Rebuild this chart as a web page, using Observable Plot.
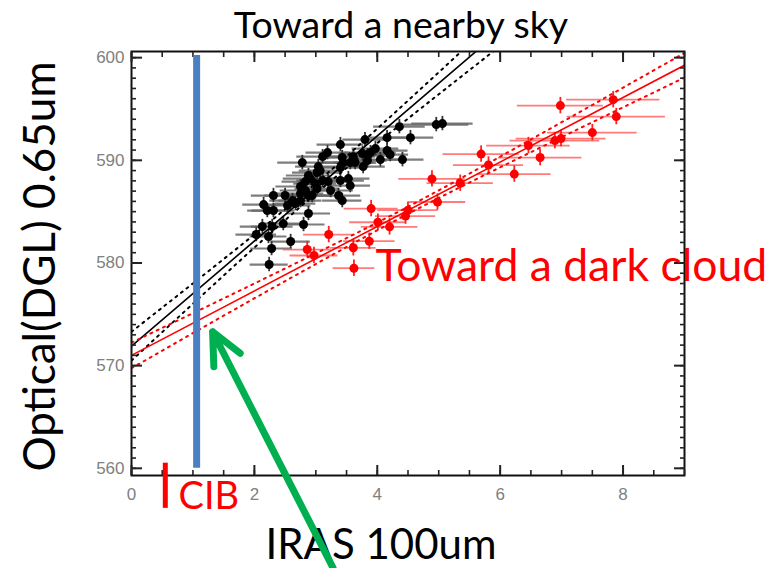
<!DOCTYPE html>
<html><head><meta charset="utf-8">
<script src="https://cdn.jsdelivr.net/npm/d3@7"></script>
<script src="https://cdn.jsdelivr.net/npm/@observablehq/plot@0.6"></script>
<style>body{margin:0;background:#fff} #chart svg{display:block}</style>
</head><body><div id="chart"></div>
<script>
// ---- Data: toward a nearby sky (black) ----
const nearbyX = [5.06,4.96,4.36,4.54,4.16,3.80,3.40,4.16,4.21,4.41,4.05,3.89,3.76,3.84,3.61,3.56,3.43,3.45,3.19,3.11,3.40,3.77,3.84,2.78,3.04,3.07,3.02,2.88,2.91,2.83,2.99,3.11,3.20,3.40,3.53,3.56,3.02,2.83,2.75,2.94,2.62,2.75,3.37,3.43,2.50,2.31,2.88,2.15,2.21,2.31,2.54,2.67,2.88,2.80,2.47,2.29,2.13,2.03,2.23,2.59,2.28,2.24,2.75,3.24,3.64,3.97];
const nearbyY = [593.58,593.48,593.28,592.21,592.21,592.02,591.53,590.95,590.56,590.07,590.07,590.75,590.66,590.46,590.36,589.78,590.27,589.78,590.75,590.36,589.29,589.39,589.98,589.78,589.39,589.00,588.81,588.52,588.22,587.93,587.74,588.03,587.93,588.03,588.22,587.54,587.25,587.06,586.76,586.57,586.08,586.08,586.57,586.08,586.57,586.57,586.57,585.69,585.11,585.11,585.60,585.79,584.82,583.75,583.84,583.55,583.55,582.77,582.58,582.09,581.41,579.85,587.45,587.06,589.78,591.14];
const nearbyXErr = [0.50,0.53,0.42,0.38,0.40,0.36,0.38,0.34,0.30,0.35,0.40,0.42,0.38,0.33,0.36,0.40,0.34,0.38,0.35,0.42,0.33,0.36,0.32,0.40,0.37,0.34,0.40,0.36,0.44,0.38,0.35,0.42,0.37,0.39,0.35,0.33,0.36,0.41,0.38,0.34,0.37,0.35,0.36,0.32,0.33,0.36,0.38,0.34,0.32,0.35,0.38,0.33,0.36,0.35,0.31,0.34,0.36,0.33,0.30,0.32,0.34,0.31,0.40,0.37,0.35,0.38];
const nearbyYErr = 0.7;

// ---- Data: toward a dark cloud (red) ----
const cloudX = [6.98,7.84,7.89,7.50,6.89,6.99,6.46,6.65,5.69,5.81,6.23,4.89,5.35,4.98,4.50,4.46,3.90,4.01,4.20,3.21,3.87,3.61,2.86,2.97,3.62];
const cloudY = [595.33,595.91,594.26,592.70,591.92,592.12,591.44,590.27,590.61,589.54,588.66,588.19,587.77,585.94,585.14,584.57,585.30,583.97,583.52,582.77,582.12,581.48,581.31,580.73,579.49];
const cloudXErr = [0.70,0.76,0.80,0.73,0.73,0.73,0.68,0.68,0.62,0.57,0.60,0.54,0.54,0.46,0.49,0.49,0.44,0.46,0.46,0.41,0.42,0.37,0.39,0.39,0.34];
const cloudYErr = 0.8;

// ---- Fits and confidence bands ----
const nearbyFitX = [0, 6];
const nearbyFitY = [571.9, 602.62];
const nearbyBandX = [0, 1, 2, 3, 4, 5, 6];
const nearbyUpperY = [573.3, 578.01, 582.78, 587.76, 593.08, 598.57, 604.1];
const nearbyLowerY = [570.5, 576.03, 581.50, 586.76, 591.68, 596.43, 601.14];
const cloudFitX = [0, 9];
const cloudFitY = [571.0, 599.26];
const cloudBandX = [0, 1.5, 3, 4.5, 6, 7.5, 9];
const cloudUpperY = [572.25, 576.55, 580.94, 585.48, 590.36, 595.39, 600.46];
const cloudLowerY = [569.75, 574.87, 579.90, 584.78, 589.32, 593.71, 598.06];

// ---- Annotations ----
const blueBarX = 1.06, blueBarY = [560, 600.2];
const cibX = 0.55, cibY = [556.1, 560.5];
const arrowFrom = [3.28, 550.3], arrowTo = [1.32, 573.3];

// ---- Ticks / labels ----
const xTicks = [0, 2, 4, 6, 8];
const xMinorTicks = d3.range(0, 9.01, 0.5);
const yTicks = [560, 570, 580, 590, 600];
const yMinorTicks = d3.range(560, 600.5, 1);
const titleText = "Toward a nearby sky";
const xLabel = "IRAS 100um";
const yLabel = "Optical(DGL) 0.65um";
const cloudLabel = "Toward a dark cloud";
const cibLabel = "CIB";

const nearby = nearbyX.map((x, i) => ({x, y: nearbyY[i], xe: nearbyXErr[i], ye: nearbyYErr}));
const cloud = cloudX.map((x, i) => ({x, y: cloudY[i], xe: cloudXErr[i], ye: cloudYErr}));
const pts = (xs, ys) => xs.map((x, i) => ({x, y: ys[i]}));

const big = "Lato, 'Open Sans', sans-serif";
const tickFont = "'Liberation Sans', Arial, sans-serif";

const chart = Plot.plot({
  width: 780, height: 568,
  marginLeft: 131, marginRight: 96, marginTop: 51, marginBottom: 93,
  x: {domain: [0, 9]},
  y: {domain: [559.3, 600.6]},
  style: {background: "white", overflow: "visible", fontFamily: tickFont},
  marks: [
    // error bars
    Plot.ruleY(nearby, {y: "y", x1: d => d.x - d.xe, x2: d => d.x + d.xe, stroke: "#666", strokeWidth: 2.2, strokeOpacity: 0.85}),
    Plot.ruleX(nearby, {x: "x", y1: d => d.y - d.ye, y2: d => d.y + d.ye, stroke: "#333", strokeWidth: 1.8}),
    Plot.ruleY(cloud, {y: "y", x1: d => d.x - d.xe, x2: d => d.x + d.xe, stroke: "#ff5a5a", strokeWidth: 1.8, strokeOpacity: 0.8}),
    Plot.ruleX(cloud, {x: "x", y1: d => d.y - d.ye, y2: d => d.y + d.ye, stroke: "#ff2020", strokeWidth: 1.8}),
    // fits
    Plot.line(pts(nearbyFitX, nearbyFitY), {x: "x", y: "y", stroke: "black", strokeWidth: 1.6, clip: true}),
    Plot.line(pts(nearbyBandX, nearbyUpperY), {x: "x", y: "y", curve: "natural", stroke: "black", strokeWidth: 2, strokeDasharray: "2,5", clip: true}),
    Plot.line(pts(nearbyBandX, nearbyLowerY), {x: "x", y: "y", curve: "natural", stroke: "black", strokeWidth: 2, strokeDasharray: "2,5", clip: true}),
    Plot.line(pts(cloudFitX, cloudFitY), {x: "x", y: "y", stroke: "#ff0000", strokeWidth: 1.6, clip: true}),
    Plot.line(pts(cloudBandX, cloudUpperY), {x: "x", y: "y", curve: "natural", stroke: "#ff0000", strokeWidth: 2, strokeDasharray: "2,5", clip: true}),
    Plot.line(pts(cloudBandX, cloudLowerY), {x: "x", y: "y", curve: "natural", stroke: "#ff0000", strokeWidth: 2, strokeDasharray: "2,5", clip: true}),
    // points
    Plot.dot(nearby, {x: "x", y: "y", r: 4.5, fill: "black"}),
    Plot.dot(cloud, {x: "x", y: "y", r: 4.5, fill: "#ff0000"}),
    // frame and ticks
    Plot.frame({stroke: "#111", strokeWidth: 2}),
    Plot.axisY({anchor: "left", ticks: yMinorTicks, tickSize: -5, text: null, label: null, stroke: "#222", strokeWidth: 1.6}),
    Plot.axisY({anchor: "left", ticks: yTicks, tickSize: -11, text: null, label: null, stroke: "#222", strokeWidth: 2}),
    Plot.axisY({anchor: "right", ticks: yMinorTicks, tickSize: -5, text: null, label: null, stroke: "#222", strokeWidth: 1.6}),
    Plot.axisY({anchor: "right", ticks: yTicks, tickSize: -11, text: null, label: null, stroke: "#222", strokeWidth: 2}),
    Plot.axisX({anchor: "bottom", ticks: xMinorTicks, tickSize: -5, text: null, label: null, stroke: "#222", strokeWidth: 1.6}),
    Plot.axisX({anchor: "bottom", ticks: xTicks, tickSize: -10, text: null, label: null, stroke: "#222", strokeWidth: 2}),
    Plot.axisX({anchor: "top", ticks: xMinorTicks, tickSize: -5, text: null, label: null, stroke: "#222", strokeWidth: 1.6}),
    Plot.axisX({anchor: "top", ticks: xTicks, tickSize: -10, text: null, label: null, stroke: "#222", strokeWidth: 2}),
    Plot.axisY({anchor: "left", ticks: yTicks, tickSize: 0, tickPadding: 7, label: null, fontSize: 17, fill: "#808080", tickFormat: d => String(d)}),
    Plot.axisX({anchor: "bottom", ticks: xTicks, tickSize: 0, tickPadding: 12, label: null, fontSize: 17, fill: "#808080", tickFormat: d => String(d)}),
    // annotations
    Plot.ruleX([blueBarX], {x: d => d, y1: blueBarY[0], y2: blueBarY[1], stroke: "#4a7fc1", strokeWidth: 7}),
    Plot.ruleX([cibX], {x: d => d, y1: cibY[0], y2: cibY[1], stroke: "#ff0000", strokeWidth: 5}),
    Plot.text([titleText], {text: d => d, frameAnchor: "top", textAnchor: "middle", dx: -7, dy: -14, lineAnchor: "bottom", fontSize: 37.5, fontFamily: big, fill: "black"}),
    Plot.text([xLabel], {text: d => d, frameAnchor: "bottom", textAnchor: "middle", dx: -27, dy: 83, lineAnchor: "bottom", fontSize: 42, fontFamily: big, fill: "black"}),
    Plot.text([yLabel], {text: d => d, frameAnchor: "left", textAnchor: "middle", dx: -77, dy: 3, rotate: -90, lineAnchor: "bottom", fontSize: 44, fontFamily: big, fill: "black"}),
    Plot.text([cloudLabel], {text: d => d, frameAnchor: "left", dx: 244, dy: 17, textAnchor: "start", lineAnchor: "bottom", fontSize: 44.5, fontFamily: big, fill: "#ff0000"}),
    Plot.text([cibLabel], {text: d => d, frameAnchor: "bottom-left", dx: 47, dy: 33, textAnchor: "start", lineAnchor: "bottom", fontSize: 38, fontFamily: big, fill: "#ff0000"}),
    Plot.arrow([0], {x1: arrowFrom[0], y1: arrowFrom[1], x2: arrowTo[0], y2: arrowTo[1], stroke: "#00b050", strokeWidth: 7, headLength: 7.5, headAngle: 50, strokeLinecap: "round", strokeLinejoin: "round"})
  ]
});
document.getElementById("chart").append(chart);
</script>
</body></html>
